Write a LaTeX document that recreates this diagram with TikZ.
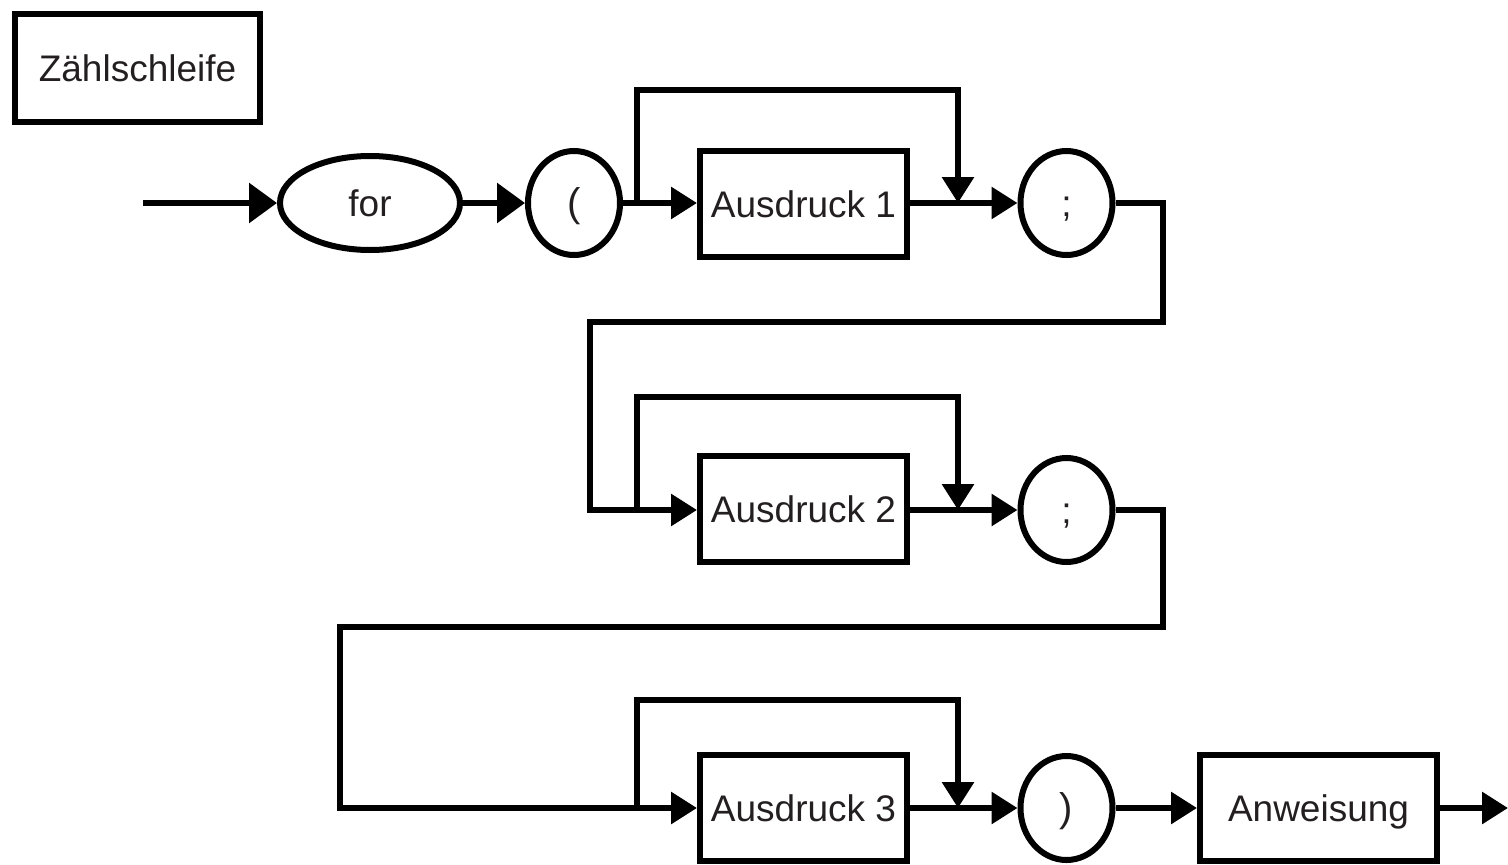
\documentclass[tikz,border=0pt]{standalone}
\usepackage{fontspec}
\setmainfont{Liberation Sans}
\usetikzlibrary{shapes.geometric,arrows.meta}
\definecolor{txt}{HTML}{231F20}
\begin{document}
\begin{tikzpicture}[x=1pt,y=-1pt,
  line width=6pt,
  every node/.style={font=\fontsize{37}{44}\selectfont, inner sep=0pt, text=txt,
    text height=26.5pt, text depth=0pt},
  box/.style={draw=black, rectangle, minimum width=207pt, minimum height=106pt},
  oval/.style={draw=black, ellipse, minimum width=92pt, minimum height=104pt},
  conn/.style={-{Triangle[length=26pt,width=31pt]}},
  bigconn/.style={-{Triangle[length=28pt,width=39pt]}}]
\useasboundingbox (0,0) rectangle (1508,865);
\clip (0,0) rectangle (1508,865);

% nodes
\node[box, minimum width=245pt, minimum height=108pt] (title) at (137.5,68) {Zählschleife};
\node[oval, minimum width=180pt, minimum height=94pt] (for) at (370,203) {for};
\node[oval] (lp) at (574,203) {\fontsize{40}{44}\selectfont (};
\node[box] (a1) at (803.5,204) {Ausdruck 1};
\node[oval] (s1) at (1066.5,203) {;};
\node[box] (a2) at (803.5,509) {Ausdruck 2};
\node[oval] (s2) at (1066.5,510) {;};
\node[box] (a3) at (803.5,808) {Ausdruck 3};
\node[oval] (rp) at (1066.5,808) {\fontsize{40}{44}\selectfont )};
\node[box, minimum width=237pt] (anw) at (1318.5,808) {Anweisung};

% coordinates
\coordinate (start) at (143,203);
\coordinate (end) at (1508,808);
\coordinate (b1l) at (637,203);
\coordinate (b1t) at (958,90);
\coordinate (b1r) at (958,203);
\coordinate (b2l) at (637,510);
\coordinate (b2t) at (958,397);
\coordinate (b2r) at (958,510);
\coordinate (b3l) at (637,808);
\coordinate (b3t) at (958,700);
\coordinate (b3r) at (958,808);
\coordinate (r1) at (1163,322);
\coordinate (l1) at (590,322);
\coordinate (r2) at (1163,627);
\coordinate (l2) at (340,627);

% row 1
\draw[bigconn] (start) -- (for.west);
\draw[bigconn] (for.east) -- (lp.west);
\draw[conn] (lp.east) -- (b1l) -- (a1.west |- b1l);
\draw[conn] (a1.east |- b1r) -- (s1.west);
\draw[conn] (b1l) |- (b1t) -- (b1r);
\draw[conn] (s1.east) -| (r1) -- (l1) |- (a2.west |- b2l);

% row 2
\draw[conn] (a2.east |- b2r) -- (s2.west);
\draw[conn] (b2l) |- (b2t) -- (b2r);
\draw[conn] (s2.east) -| (r2) -- (l2) |- (a3.west);

% row 3
\draw[conn] (a3.east) -- (rp.west);
\draw[conn] (b3l) |- (b3t) -- (b3r);
\draw[conn] (rp.east) -- (anw.west);
\draw[conn] (anw.east) -- (end);
\end{tikzpicture}
\end{document}
